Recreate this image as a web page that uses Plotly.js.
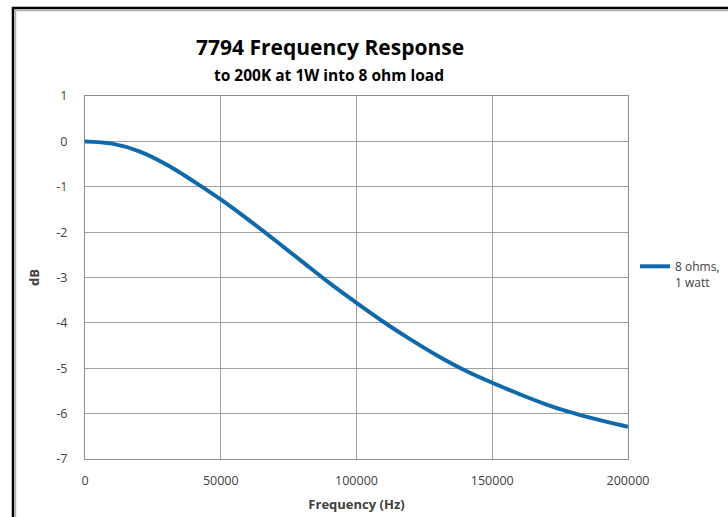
<!DOCTYPE html>
<html>
<head>
<meta charset="utf-8">
<script src="https://cdn.plot.ly/plotly-3.0.1.min.js"></script>
<style>
html,body{margin:0;padding:0;background:#fff;}
#chart{width:728px;height:517px;}
</style>
</head>
<body>
<div id="chart"></div>
<script>
// Data
const frequencyHz = [0, 10000, 20000, 30000, 40000, 50000, 60000, 70000, 80000, 90000, 100000,
  110000, 120000, 130000, 140000, 150000, 160000, 170000, 180000, 190000, 200000];
const responseDb = [0, -0.05, -0.22, -0.51, -0.88, -1.28, -1.72, -2.18, -2.65, -3.12, -3.56,
  -3.98, -4.37, -4.73, -5.05, -5.32, -5.57, -5.8, -5.99, -6.15, -6.29];
const seriesName = "8 ohms,<br>1 watt";
const xTickVals = [0, 50000, 100000, 150000, 200000];
const xTickText = ["0", "50000", "100000", "150000", "200000"];
const yTickVals = [1, 0, -1, -2, -3, -4, -5, -6, -7];
const yTickText = ["1", "0", "-1", "-2", "-3", "-4", "-5", "-6", "-7"];
const chartTitle = "7794 Frequency Response";
const chartSubtitle = "to 200K at 1W into 8 ohm load";

const FONT = "Open Sans, Liberation Sans, sans-serif";
const L = 85, R = 100, T = 96, B = 58;
const pw = 728 - L - R, ph = 517 - T - B;
const px = v => (v - L) / pw;
const py = v => (517 - B - v) / ph;

const trace = {
  x: frequencyHz,
  y: responseDb,
  type: "scatter",
  mode: "lines",
  name: seriesName,
  line: {color: "#0e6aad", width: 4, shape: "spline", smoothing: 1}
};

const layout = {
  width: 728, height: 517,
  margin: {l: L, r: R, t: T, b: B, pad: 0, autoexpand: false},
  paper_bgcolor: "#ffffff",
  plot_bgcolor: "#ffffff",
  font: {family: FONT, color: "#404040", size: 12},
  showlegend: true,
  legend: {
    x: px(635), y: py(252), xanchor: "left", yanchor: "top",
    valign: "top",
    font: {family: FONT, size: 12, color: "#404040"},
    bgcolor: "rgba(0,0,0,0)", borderwidth: 0,
    itemwidth: 30, tracegroupgap: 0
  },
  xaxis: {
    range: [0, 200000],
    tickvals: xTickVals, ticktext: xTickText,
    showgrid: true, gridcolor: "#a0a0a0", gridwidth: 1,
    showline: true, linecolor: "#8c8c8c", linewidth: 1, mirror: true,
    zeroline: false, ticks: "", ticklabelstandoff: 10,
    tickfont: {family: FONT, size: 12.5, color: "#404040"},
    title: {text: "<b>Frequency (Hz)</b>", font: {family: FONT, size: 13, color: "#404040"}, standoff: 11}
  },
  yaxis: {
    range: [-7, 1],
    tickvals: yTickVals, ticktext: yTickText,
    showgrid: true, gridcolor: "#a0a0a0", gridwidth: 1,
    showline: true, linecolor: "#8c8c8c", linewidth: 1, mirror: true,
    zeroline: false, ticks: "", ticklabelstandoff: 14,
    tickfont: {family: FONT, size: 12.5, color: "#404040"},
    title: {text: "<b>dB</b>", font: {family: FONT, size: 13, color: "#404040"}, standoff: 13}
  },
  annotations: [
    {text: "<b>" + chartTitle + "</b>", xref: "paper", yref: "paper",
     x: px(330), y: py(47), xanchor: "center", yanchor: "middle", showarrow: false,
     font: {family: FONT, size: 21, color: "#000000"}},
    {text: "<b>" + chartSubtitle + "</b>", xref: "paper", yref: "paper",
     x: px(329), y: py(75), xanchor: "center", yanchor: "middle", showarrow: false,
     font: {family: FONT, size: 15.5, color: "#000000"}}
  ],
  shapes: [
    {type: "rect", xref: "paper", yref: "paper",
     x0: px(13), x1: px(900), y0: py(700), y1: py(8),
     line: {color: "#000000", width: 2.5}, layer: "above"},
    {type: "line", xref: "paper", yref: "paper",
     x0: px(15.5), x1: px(15.5), y0: py(700), y1: py(10),
     line: {color: "#b0b0b0", width: 1.5}, layer: "above"},
    {type: "line", xref: "paper", yref: "paper",
     x0: px(15), x1: px(900), y0: py(10.5), y1: py(10.5),
     line: {color: "#b0b0b0", width: 1.5}, layer: "above"}
  ]
};

Plotly.newPlot("chart", [trace], layout, {displayModeBar: false, staticPlot: true});
</script>
</body>
</html>
